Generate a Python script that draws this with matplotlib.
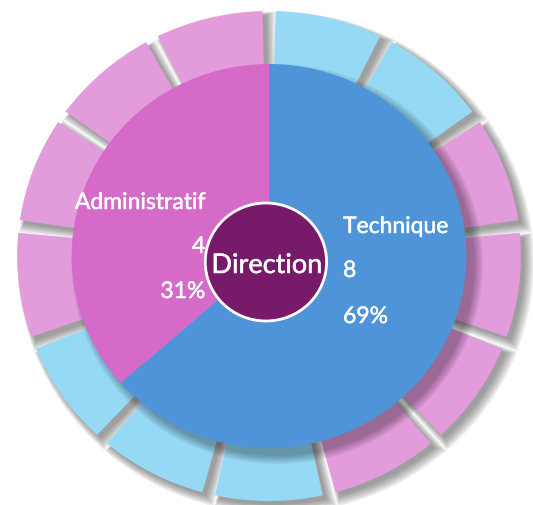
import matplotlib.pyplot as plt
import matplotlib.patheffects as pe
from matplotlib.patches import Wedge, Ellipse

plt.rcParams['font.family'] = ['Lato', 'DejaVu Sans']

# inner pie
categories = ["Administratif", "Technique"]
counts = [4, 8]
pct_labels = ["31%", "69%"]
shares = [36.5, 63.5]          # slice sizes as drawn in the reference
pie_colors = ['#D56AC8', '#4F94D9']

# outer decorative ring, clockwise from 12 o'clock
ring_kinds = ['b', 'b', 'p', 'p', 'p', 'p', 'b', 'b', 'b', 'p', 'p', 'p', 'p']
ring_palette = {'p': '#E29BDB', 'b': '#95D9F5'}

center_title = "Direction"
center_color = '#781A6A'

R_PIE = 192
R_OUT = 245
R_IN = 165
GAP = 3.0
XSTRETCH = 1.028   # reference is slightly wider than tall

fig = plt.figure(figsize=(5.33, 5.06), dpi=100)
ax = fig.add_axes([0, 0, 1, 1])

n = len(ring_kinds)
step = 360.0 / n

# ring shadows
for i in range(n):
    t2 = 90 - i * step
    t1 = t2 - step
    for k in range(6):
        ext = k * 1.2
        dth = ext / R_OUT * 57.3
        ax.add_patch(Wedge((4 + k * 0.5, -4 - k * 0.5), R_OUT + ext,
                           t1 + GAP / 2 - dth, t2 - GAP / 2 + dth,
                           width=R_OUT - R_IN + 2 * ext,
                           facecolor='#202020', edgecolor='none', alpha=0.085, zorder=1))

# ring segments
for i, kind in enumerate(ring_kinds):
    t2 = 90 - i * step
    t1 = t2 - step
    ax.add_patch(Wedge((0, 0), R_OUT, t1 + GAP / 2, t2 - GAP / 2,
                       width=R_OUT - R_IN, facecolor=ring_palette[kind],
                       edgecolor='none', zorder=2))

# pie shadow over the ring (lower right only)
for k in range(6):
    ax.add_patch(Wedge((8, -8), R_PIE + k * 1.6, 0, 360,
                       facecolor='black', edgecolor='none', alpha=0.06, zorder=3))

ax.pie(shares, colors=pie_colors, startangle=90, counterclock=True,
       radius=R_PIE, wedgeprops=dict(edgecolor='none'))
for w in ax.patches[-2:]:
    w.set_zorder(4)

ax.add_patch(Ellipse((-3, -6), 2 * 59, 2 * 59, facecolor=center_color,
                     edgecolor='white', linewidth=2, zorder=6))

# a thin white stroke makes Lato a bit heavier, like the reference font
thick = [pe.withStroke(linewidth=0.35, foreground='white')]
txt = dict(color='white', zorder=7, va='baseline', path_effects=thick)
ax.text(-62, 47, categories[0], ha='right', fontsize=16.5, **txt)
ax.text(-62, 3, str(counts[0]), ha='right', fontsize=16.5, **txt)
ax.text(-62, -42, pct_labels[0], ha='right', fontsize=16.5, **txt)
ax.text(72, 23, categories[1], ha='left', fontsize=16.5, **txt)
ax.text(72, -21, str(counts[1]), ha='left', fontsize=16.5, **txt)
ax.text(72, -67, pct_labels[1], ha='left', fontsize=16.5, **txt)
ax.text(-2, -17, center_title, ha='center', fontsize=19.5, **txt)

ax.set_aspect('auto')
ax.set_xlim(-269 / XSTRETCH, 264 / XSTRETCH)
ax.set_ylim(-249, 257)
ax.axis('off')

fig.savefig('out.png', dpi=100, facecolor='white')
